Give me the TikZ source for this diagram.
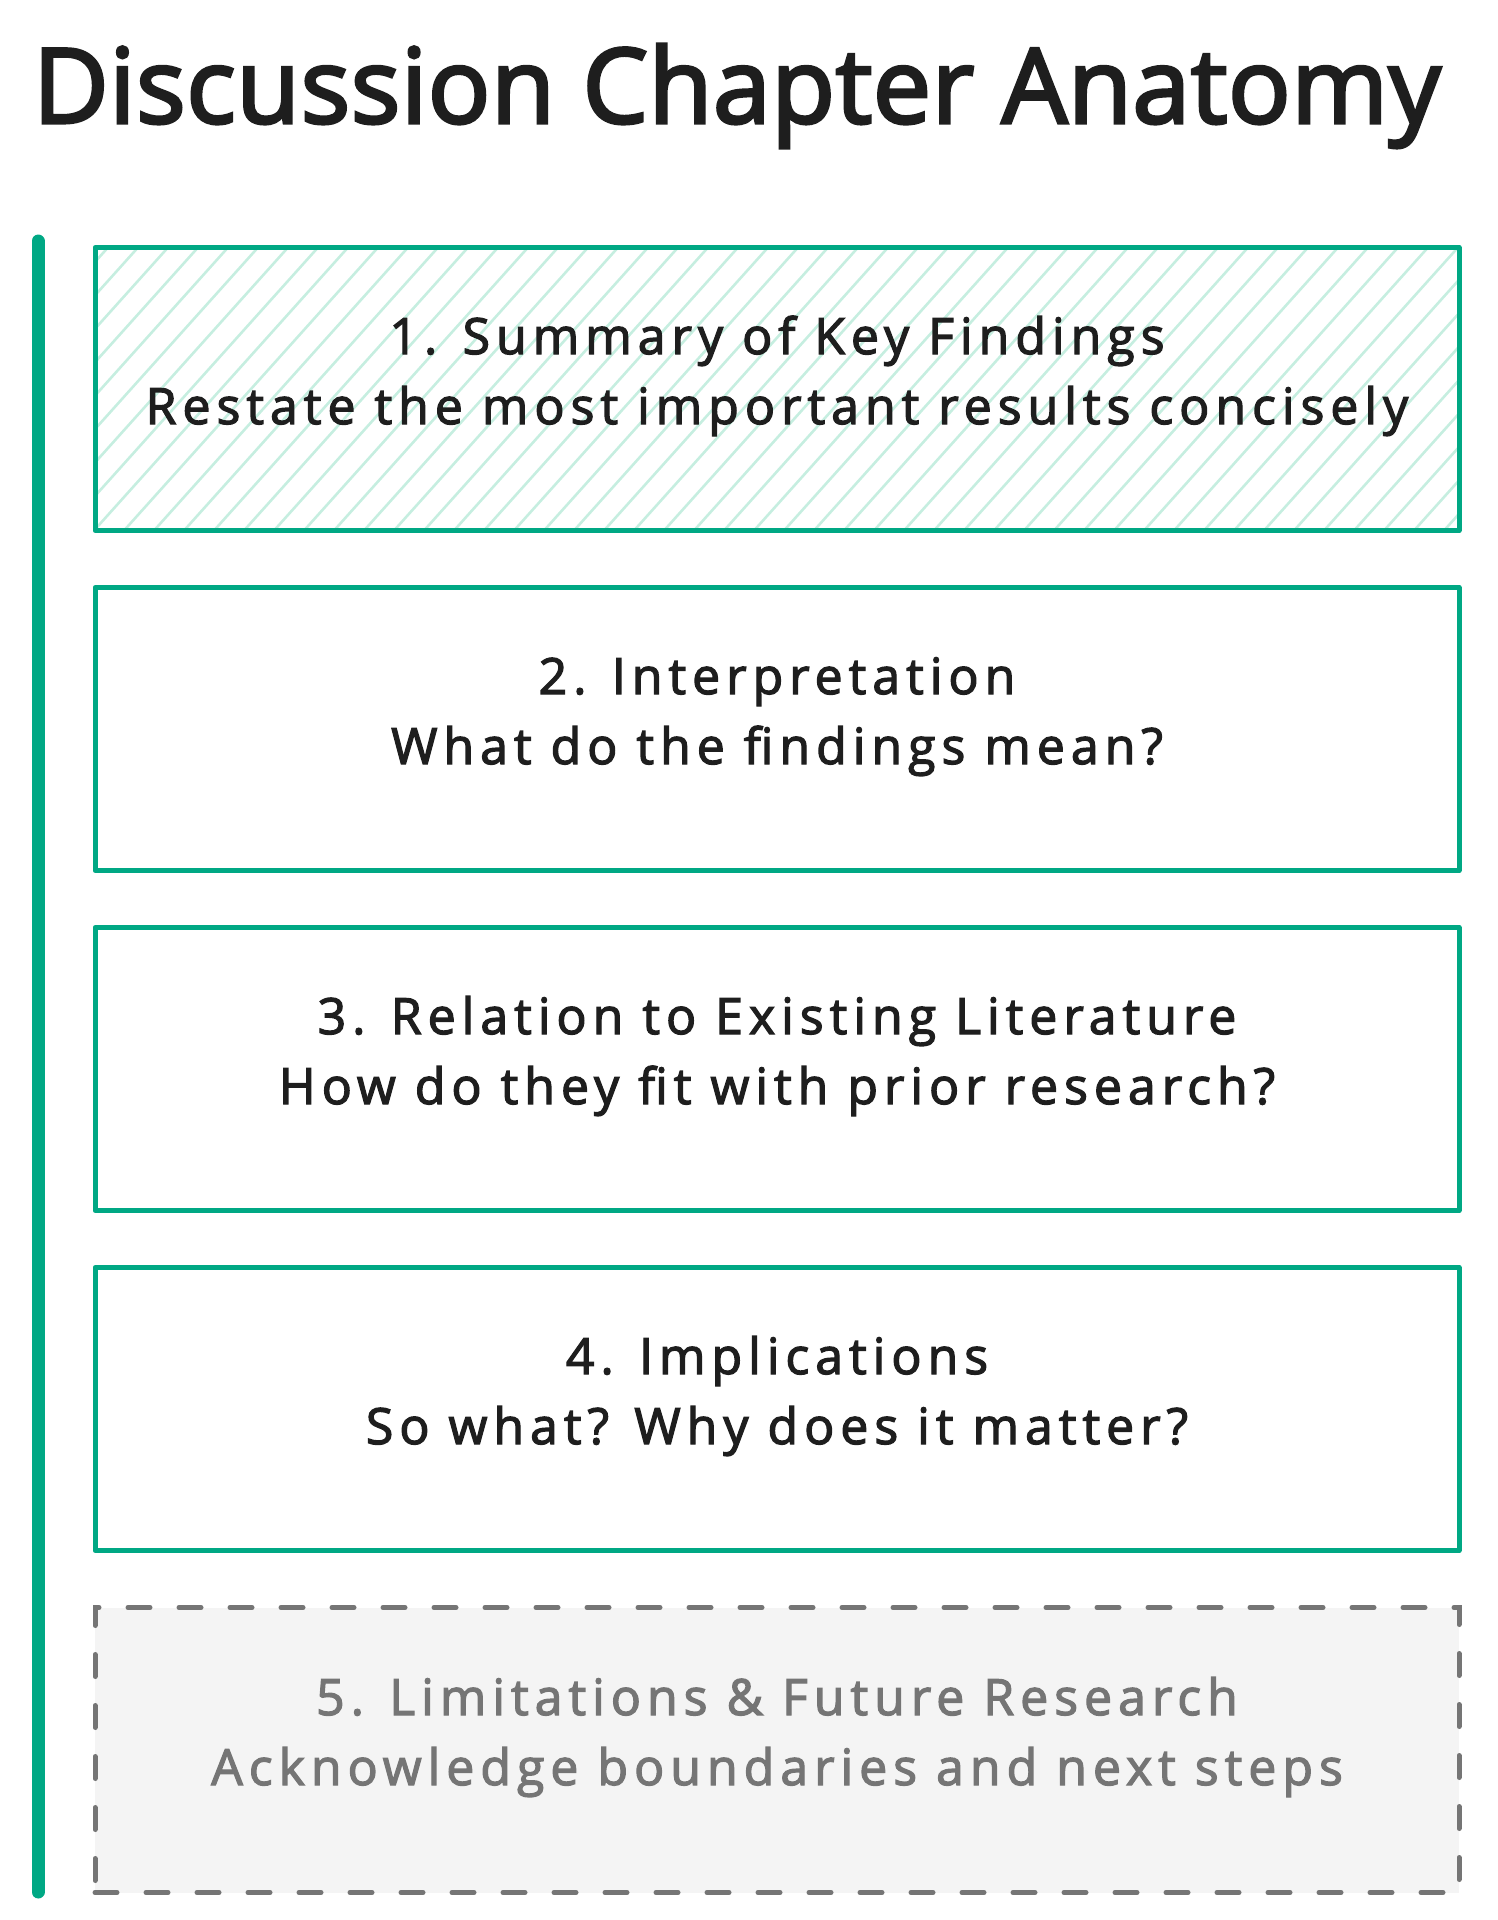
\documentclass[tikz,border=0pt]{standalone}
\usepackage{fontspec}
\setmainfont{Open Sans}
\newfontfamily\bodyfont{Open Sans}[LetterSpace=12, FakeBold=2.5]
\newfontfamily\headfont{Open Sans}[LetterSpace=0.5, FakeBold=3]
\definecolor{teal}{RGB}{0,168,132}
\definecolor{hatch}{RGB}{198,238,224}
\definecolor{ink}{RGB}{30,30,30}
\definecolor{greyfill}{RGB}{244,244,244}
\definecolor{greyline}{RGB}{117,117,117}
\tikzset{
  stepbox/.style={draw=teal, line width=5pt, line join=round},
  limbox/.style={draw=greyline, fill=greyfill, line width=5pt, line cap=round, dash pattern=on 22pt off 29pt},
  headtxt/.style={anchor=base, text=ink, font=\bodyfont\fontsize{50}{60}\selectfont, inner sep=0pt},
  greytxt/.style={headtxt, text=greyline},
  titletxt/.style={anchor=base, text=ink, font=\headfont\fontsize{104}{114}\selectfont, inner sep=0pt}
}
\begin{document}
\begin{tikzpicture}[x=1pt, y=-1pt]
\useasboundingbox (0,0) rectangle (1498,1920);
% title
\node[titletxt] (title) at (737,123) {Discussion Chapter Anatomy};
% timeline bar
\coordinate (bartop) at (38,241);
\coordinate (barbot) at (38,1892);
\draw[teal, line width=13pt, line cap=round] (bartop) -- (barbot);
% box 1 with hatching
\begin{scope}
  \clip (95,248) rectangle (1459,530);
  \foreach \i in {-300,-270,...,1480}
    \draw[hatch, line width=2.6pt] (\i,535) -- ++(262,-292);
\end{scope}
\node[stepbox, minimum width=1364pt, minimum height=283pt, inner sep=0pt] (b1) at (777,389) {};
\node[stepbox, minimum width=1364pt, minimum height=283pt, inner sep=0pt] (b2) at (777,729) {};
\node[stepbox, minimum width=1364pt, minimum height=283pt, inner sep=0pt] (b3) at (777,1069) {};
\node[stepbox, minimum width=1364pt, minimum height=283pt, inner sep=0pt] (b4) at (777,1409) {};
\node[limbox, minimum width=1364pt, minimum height=285pt, inner sep=0pt] (b5) at (777,1750) {};
% texts
\node[headtxt] (t1a) at ([yshift=35pt]b1.center) {1. Summary of Key Findings};
\node[headtxt] (t1b) at ([yshift=-35pt]b1.center) {Restate the most important results concisely};
\node[headtxt] (t2a) at ([yshift=35pt]b2.center) {2. Interpretation};
\node[headtxt] (t2b) at ([yshift=-35pt]b2.center) {What do the findings mean?};
\node[headtxt] (t3a) at ([yshift=35pt]b3.center) {3. Relation to Existing Literature};
\node[headtxt] (t3b) at ([yshift=-35pt]b3.center) {How do they fit with prior research?};
\node[headtxt] (t4a) at ([yshift=35pt]b4.center) {4. Implications};
\node[headtxt] (t4b) at ([yshift=-35pt]b4.center) {So what? Why does it matter?};
\node[greytxt] (t5a) at ([yshift=35pt]b5.center) {5. Limitations \& Future Research};
\node[greytxt] (t5b) at ([yshift=-35pt]b5.center) {Acknowledge boundaries and next steps};
\end{tikzpicture}
\end{document}
